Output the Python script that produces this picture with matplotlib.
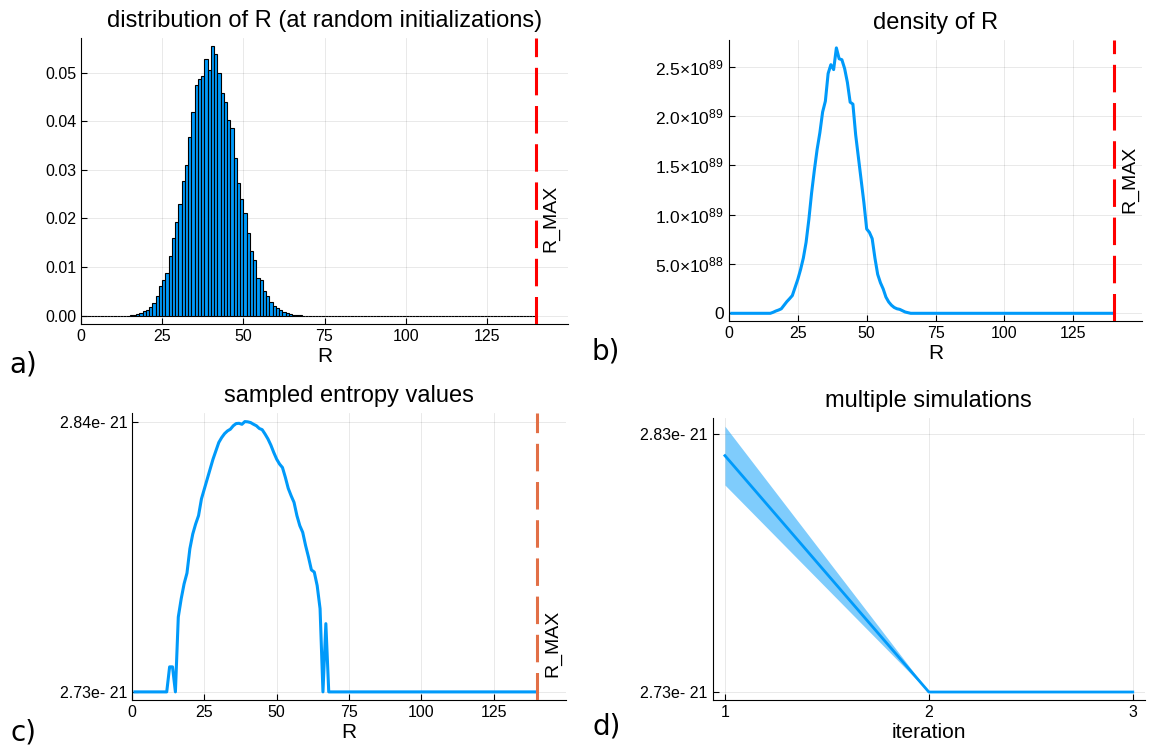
import numpy as np
import matplotlib
matplotlib.use("Agg")
import matplotlib.pyplot as plt

plt.rcParams['font.family'] = ['Liberation Sans', 'DejaVu Sans']
plt.rcParams['mathtext.fontset'] = 'custom'
plt.rcParams['mathtext.rm'] = 'Liberation Sans'
plt.rcParams['mathtext.it'] = 'Liberation Sans:italic'

BLUE = '#009AFA'
R_MAX = 140

# a) histogram of R, bins [R, R+1), non-zero part (bins 0..14 and 68..139 are empty)
hist_start = 15
hist_vals = [0.00005, 0.0001, 0.0003, 0.0005, 0.0010, 0.0012, 0.0018, 0.0027, 0.0040,
             0.0062, 0.0073, 0.0087, 0.0123, 0.0159, 0.0192, 0.0229, 0.0277, 0.0310,
             0.0368, 0.0418, 0.0475, 0.0486, 0.0493, 0.0527, 0.0505, 0.0554, 0.0539,
             0.0499, 0.0457, 0.0439, 0.0403, 0.0385, 0.0325, 0.0272, 0.0240, 0.0212,
             0.0171, 0.0133, 0.0114, 0.0077, 0.0073, 0.0051, 0.0040, 0.0029, 0.0021,
             0.0016, 0.0011, 0.0008, 0.0005, 0.0003, 0.0002, 0.0001, 0.00005]

# b) density of R (units of 1e89), R = 1..140
dens_start = 15
dens_vals = [0.0, 0.01, 0.023, 0.033, 0.046, 0.082, 0.118, 0.148, 0.18, 0.263, 0.345,
             0.444, 0.56, 0.72, 0.95, 1.22, 1.45, 1.66, 1.83, 2.04, 2.15, 2.43, 2.52,
             2.47, 2.69, 2.58, 2.57, 2.48, 2.34, 2.14, 2.12, 1.81, 1.58, 1.35, 1.12,
             0.855, 0.82, 0.757, 0.56, 0.395, 0.31, 0.247, 0.164, 0.115, 0.082, 0.059,
             0.046, 0.04, 0.026, 0.013, 0.007, 0.0]

# c) sampled entropy values (units of 1e-21), R = 1..140
ent_base = 2.73
ent_start = 13
ent_vals = [2.7402, 2.7402, 2.73, 2.7605, 2.7679, 2.774, 2.7784, 2.7883, 2.7943, 2.7984,
            2.8018, 2.8086, 2.8126, 2.8167, 2.8208, 2.8248, 2.8282, 2.8316, 2.8336,
            2.8352, 2.8363, 2.837, 2.8384, 2.8393, 2.8394, 2.839, 2.8401, 2.84, 2.8397,
            2.839, 2.8384, 2.8373, 2.8368, 2.835, 2.833, 2.8305, 2.8275, 2.8248, 2.8228,
            2.8214, 2.8174, 2.8129, 2.8099, 2.8072, 2.8018, 2.7977, 2.795, 2.7896,
            2.7849, 2.7797, 2.7788, 2.7733, 2.7639, 2.73, 2.7578]

# d) multiple simulations (units of 1e-21)
iterations = [1, 2, 3]
sim_mean = [2.8217, 2.73, 2.73]
sim_err = [0.0114, 0.0, 0.0]

R_bins = np.arange(0, R_MAX)
hist_full = [0.0] * hist_start + hist_vals + [0.0] * (R_MAX - hist_start - len(hist_vals))
R_line = np.arange(1, R_MAX + 1)
dens_full = [0.0] * (dens_start - 1) + dens_vals + [0.0] * (R_MAX - dens_start + 1 - len(dens_vals))
ent_full = [ent_base] * (ent_start - 1) + ent_vals + [ent_base] * (R_MAX - ent_start + 1 - len(ent_vals))

W, H = 1153, 745
fig = plt.figure(figsize=(W / 100, H / 100), dpi=100)


def make_ax(l, t, r, b):
    ax = fig.add_axes([l / W, 1 - b / H, (r - l) / W, (b - t) / H])
    for s in ['top', 'right']:
        ax.spines[s].set_visible(False)
    ax.grid(True, color='black', alpha=0.1, linewidth=0.6)
    ax.set_axisbelow(True)
    ax.tick_params(direction='in', length=4, labelsize=11.5)
    return ax


def rmax_line(ax, y, color):
    ax.axvline(R_MAX, color=color, linewidth=2.2, dashes=(9, 3.5), zorder=3)
    ax.annotate('R_MAX', (R_MAX, y), xytext=(5, 0), textcoords='offset points',
                rotation=90, ha='left', va='center', fontsize=14)


# a)
ax = make_ax(81, 38, 568, 324)
ax.bar(R_bins, hist_full, width=1, align='edge', color=BLUE, edgecolor='black', linewidth=0.8, zorder=2)
rmax_line(ax, 0.020, 'red')
ax.set_xlim(0, 150)
ax.set_ylim(-0.0017, 0.0571)
ax.set_xticks([0, 25, 50, 75, 100, 125])
ax.set_yticks([0.0, 0.01, 0.02, 0.03, 0.04, 0.05])
ax.yaxis.set_major_formatter(matplotlib.ticker.FormatStrFormatter('%.2f'))
ax.set_xlabel('R', fontsize=15, labelpad=2)
ax.set_title('distribution of R (at random initializations)', fontsize=17, pad=8)

# b)
ax = make_ax(729, 40, 1142, 321)
ax.plot(R_line, dens_full, color=BLUE, linewidth=2.2)
rmax_line(ax, 1.36, 'red')
ax.set_xlim(0, 150)
ax.set_ylim(-0.078, 2.77)
ax.set_xticks([0, 25, 50, 75, 100, 125])
ax.set_yticks([0, 0.5, 1.0, 1.5, 2.0, 2.5],
              ['0', r'$\mathregular{5.0{\times}10^{88}}$', r'$\mathregular{1.0{\times}10^{89}}$',
               r'$\mathregular{1.5{\times}10^{89}}$', r'$\mathregular{2.0{\times}10^{89}}$',
               r'$\mathregular{2.5{\times}10^{89}}$'])
ax.tick_params(axis='y', labelsize=12.5)
ax.set_xlabel('R', fontsize=15, labelpad=2)
ax.set_title('density of R', fontsize=17, pad=8)

# c)
ax = make_ax(132, 413, 566, 700)
ax.plot(R_line, ent_full, color=BLUE, linewidth=2.2)
rmax_line(ax, 2.7496, '#E26F46')
ax.set_xlim(0, 150)
ax.set_ylim(2.7267, 2.8436)
ax.set_xticks([0, 25, 50, 75, 100, 125])
ax.set_yticks([2.73, 2.84], ['2.73e- 21', '2.84e- 21'])
ax.set_xlabel('R', fontsize=15, labelpad=2)
ax.set_title('sampled entropy values', fontsize=17, pad=8)

# d)
ax = make_ax(712.7, 418, 1145, 700)
lo = np.array(sim_mean) - np.array(sim_err)
hi = np.array(sim_mean) + np.array(sim_err)
ax.fill_between(iterations, lo, hi, color=BLUE, alpha=0.5, linewidth=0)
ax.plot(iterations, sim_mean, color=BLUE, linewidth=2.0)
ax.set_xlim(0.94, 3.06)
ax.set_ylim(2.7269, 2.8363)
ax.set_xticks(iterations)
ax.set_yticks([2.73, 2.83], ['2.73e- 21', '2.83e- 21'])
ax.set_xlabel('iteration', fontsize=15, labelpad=2)
ax.set_title('multiple simulations', fontsize=17, pad=8)

# panel letters
for lbl, x, y in [('a)', 9, 364), ('b)', 591, 352), ('c)', 11, 733), ('d)', 593, 726)]:
    fig.text(x / W, 1 - y / H, lbl, fontsize=20, family='DejaVu Sans', ha='left', va='center')

fig.savefig('out.png', dpi=100)
